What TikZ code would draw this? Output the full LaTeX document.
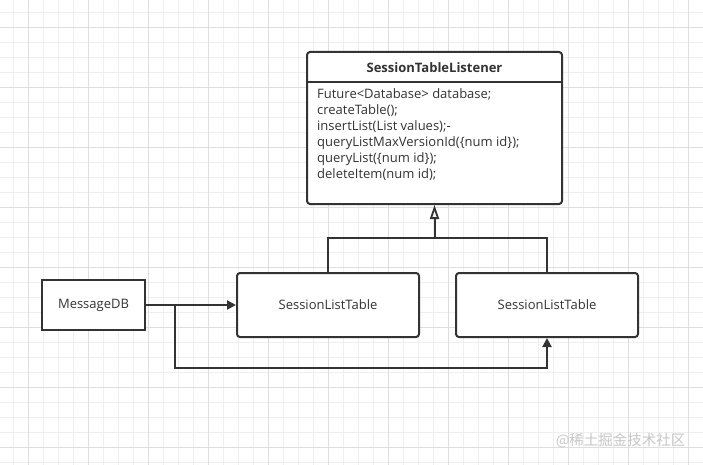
\documentclass[tikz,border=0pt]{standalone}
\usepackage{fontspec}
\setmainfont{Open Sans}
\newfontfamily\cjk{Noto Sans CJK SC}
\usetikzlibrary{arrows.meta}
\definecolor{ink}{HTML}{333333}
\definecolor{gridlo}{HTML}{EFEFEF}
\definecolor{gridhi}{HTML}{DEDEDE}
\tikzset{
  umlbox/.style={draw=ink, line width=2pt, rounded corners=3pt, fill=white, font=\fontsize{13}{15}\selectfont, text=ink},
  plainbox/.style={draw=ink, line width=2pt, fill=white, font=\fontsize{13}{15}\selectfont, text=ink},
  assoc/.style={draw=ink, line width=2pt, -{Triangle[length=9pt,width=9pt]}},
  inherit/.style={draw=ink, line width=2pt, -{Triangle[open,length=14pt,width=9pt,line width=1.8pt]}},
  link/.style={draw=ink, line width=2pt}
}
\begin{document}
\begin{tikzpicture}[x=1pt, y=-1pt]
    \useasboundingbox[fill=white] (0,0) rectangle (703,465);
    % background grid
    \foreach \gx in {13.3,28.3,...,703} \draw[gridlo, line width=0.6pt] (\gx,0) -- (\gx,465);
    \foreach \gy in {12,27,...,465} \draw[gridlo, line width=0.6pt] (0,\gy) -- (703,\gy);
    \foreach \gx in {28.3,88.3,...,703} \draw[gridhi, line width=0.6pt] (\gx,0) -- (\gx,465);
    \foreach \gy in {27,87,...,465} \draw[gridhi, line width=0.6pt] (0,\gy) -- (703,\gy);

    % interface
    \node[umlbox, minimum width=255pt, minimum height=152pt] (listener) at (434.5,128) {};
    \node[font=\fontsize{13}{15}\selectfont\bfseries, text=ink] (title) at (434.5,67.5) {SessionTableListener};
    \coordinate (sepl) at (307,82.5);
    \coordinate (sepr) at (562,82.5);
    \draw[link] (sepl) -- (sepr);
    \node[anchor=north west, align=left, inner sep=0pt, text=ink,
          font=\fontsize{13}{16}\selectfont] (members) at (317,88) {Future<Database> database;\\
        createTable();\\
        insertList(List values);-\\
        queryListMaxVersionId(\{num id\});\\
        queryList(\{num id\});\\
        deleteItem(num id);};

    % classes
    \node[plainbox, minimum width=103pt, minimum height=50pt] (msgdb) at (93.5,305) {MessageDB};
    \node[umlbox, minimum width=182pt, minimum height=64pt] (slt1) at (328,305) {SessionListTable};
    \node[umlbox, minimum width=182pt, minimum height=64pt] (slt2) at (547,305) {SessionListTable};

    % connectors
    \coordinate (join) at (434.5,238);
    \coordinate (branch) at (175,305);
    \coordinate (low) at (175,368);
    \draw[link] (slt1.north) |- (join) -| (slt2.north);
    \draw[inherit] (join) -- (listener.south);
    \draw[assoc] (msgdb.east) -- (slt1.west);
    \draw[assoc] (branch) -- (low) -| (slt2.south);

    % watermark
    \node[anchor=east, text=black!22, font=\cjk\fontsize{14.5}{16}\selectfont] (mark) at (689,441) {@稀土掘金技术社区};
\end{tikzpicture}
\end{document}
